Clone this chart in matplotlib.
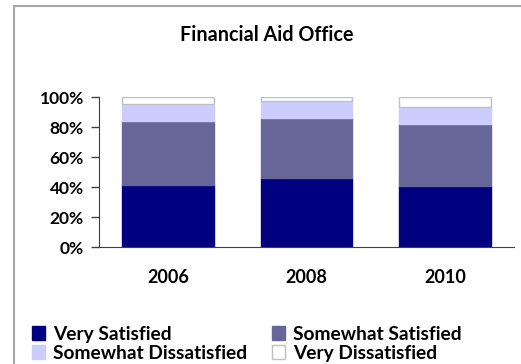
import matplotlib
matplotlib.use('Agg')
from matplotlib import pyplot as plt
from matplotlib.lines import Line2D
from matplotlib.patches import Patch

# survey results, percent of respondents
years = ['2006', '2008', '2010']
very_satisfied = [41.5, 46.0, 40.4]
somewhat_satisfied = [42.2, 39.7, 41.6]
somewhat_dissatisfied = [11.6, 11.6, 11.3]
very_dissatisfied = [4.7, 2.7, 6.7]

series = [
    ('Very Satisfied', very_satisfied, '#000080'),
    ('Somewhat Satisfied', somewhat_satisfied, '#666699'),
    ('Somewhat Dissatisfied', somewhat_dissatisfied, '#ccccff'),
    ('Very Dissatisfied', very_dissatisfied, '#ffffff'),
]

plt.rcParams['font.family'] = ['Lato', 'DejaVu Sans']
plt.rcParams['font.weight'] = 'bold'

fig = plt.figure(figsize=(5.21, 3.64), dpi=100)
W, H = 521, 364

# outer chart border, only the left and top edges show
border = Line2D([14 / W, 14 / W, 1.0], [-0.01, 1 - 6 / H, 1 - 6 / H],
                transform=fig.transFigure, color='#a6a6a6', linewidth=1.5,
                solid_capstyle='butt', solid_joinstyle='miter')
fig.add_artist(border)

ax = fig.add_axes([99 / W, 1 - 247 / H, 415 / W, 150 / H])

x = list(range(len(years)))
bottom = [0, 0, 0]
for name, vals, col in series:
    edge = '#c0c0c0' if col == '#ffffff' else col
    ax.bar(x, vals, width=0.665, bottom=bottom, color=col, edgecolor=edge,
           linewidth=1.0, label=name)
    bottom = [b + v for b, v in zip(bottom, vals)]

ax.set_xlim(-0.5, 2.5)
ax.set_ylim(0, 100)
ax.set_yticks([0, 20, 40, 60, 80, 100])
ax.set_yticklabels(['0%', '20%', '40%', '60%', '80%', '100%'], fontsize=12.5, fontweight='bold')
ax.set_xticks(x)
ax.set_xticklabels(years, fontsize=13, fontweight='bold')
ax.tick_params(axis='x', length=0, pad=16)
ax.tick_params(axis='y', length=6, width=1, direction='out', color='#404040', pad=5)
for s in ['top', 'right']:
    ax.spines[s].set_visible(False)
ax.spines['left'].set_color('#404040')
ax.spines['bottom'].set_color('#404040')

fig.text(267 / W, 1 - 35 / H, 'Financial Aid Office', ha='center', va='center',
         fontsize=14.2, fontweight='bold')

# legend fills row by row in the reference
order = [0, 2, 1, 3]
handles = []
for i in order:
    n, v, c = series[i]
    handles.append(Patch(facecolor=c, edgecolor=('#c0c0c0' if c == '#ffffff' else c), label=n))
fig.legend(handles=handles, loc='upper left', bbox_to_anchor=(24 / W, 1 - 318 / H),
           ncol=2, frameon=False, prop={'weight': 'bold', 'size': 13.8},
           handlelength=0.7, handleheight=0.7, handletextpad=0.4, columnspacing=1.3,
           labelspacing=0.1, borderaxespad=0)

plt.savefig('out.png', dpi=100)
